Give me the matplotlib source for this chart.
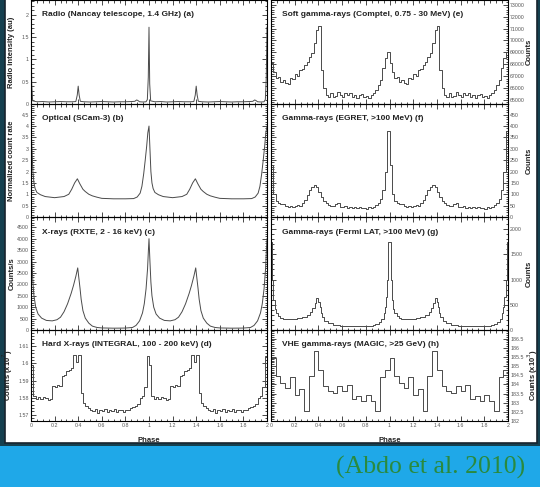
import numpy as np
import matplotlib.pyplot as plt
from matplotlib.ticker import MultipleLocator, FormatStrFormatter
from matplotlib.patches import Rectangle

plt.rcParams['font.family'] = ['Liberation Sans', 'DejaVu Sans']

# one rotation of every light curve (phase 0 -> 1), the plot shows it twice

# (a) radio, Nancay
radio_phase = [0.0, 0.006, 0.014, 0.05, 0.1, 0.15, 0.2, 0.25, 0.3, 0.35, 0.38, 0.392, 0.40, 0.408,
               0.418, 0.45, 0.5, 0.55, 0.6, 0.65, 0.7, 0.75, 0.8, 0.85, 0.88, 0.895, 0.905, 0.92,
               0.95, 0.975, 0.986, 0.994]
radio_val = [1.72, 0.45, 0.07, 0.05, 0.055, 0.045, 0.05, 0.055, 0.05, 0.05, 0.055, 0.2, 0.40, 0.2,
             0.06, 0.05, 0.045, 0.05, 0.055, 0.05, 0.045, 0.05, 0.05, 0.055, 0.06, 0.09, 0.08, 0.05,
             0.045, 0.05, 0.1, 0.6]

# (b) optical, SCam-3
opt_phase = [0.0, 0.008, 0.016, 0.025, 0.035, 0.05, 0.08, 0.12, 0.2, 0.28, 0.32, 0.345, 0.37, 0.393,
             0.415, 0.44, 0.46, 0.49, 0.52, 0.56, 0.6, 0.7, 0.8, 0.87, 0.9, 0.925, 0.94, 0.955,
             0.968, 0.98, 0.99]
opt_val = [4.0, 3.0, 2.0, 1.5, 1.25, 1.08, 0.98, 0.9, 0.85, 0.9, 1.0, 1.22, 1.5, 1.68,
           1.45, 1.22, 1.12, 1.0, 0.93, 0.87, 0.82, 0.8, 0.8, 0.81, 0.88, 1.05, 1.35, 1.9,
           2.5, 3.1, 3.7]

# (c) X-rays, RXTE 2-16 keV
xray_phase = [0.0, 0.008, 0.016, 0.025, 0.04, 0.06, 0.09, 0.13, 0.18, 0.22, 0.25, 0.28, 0.31, 0.34,
              0.36, 0.38, 0.396, 0.405, 0.415, 0.425, 0.44, 0.46, 0.49, 0.52, 0.56, 0.6, 0.7,
              0.8, 0.86, 0.89, 0.92, 0.945, 0.96, 0.975, 0.988, 0.995]
xray_val = [4000, 3000, 2100, 1500, 1000, 700, 520, 420, 400, 450, 560, 800, 1150, 1600,
            1950, 2350, 2720, 2300, 1850, 1350, 850, 520, 300, 170, 110, 90, 80,
            85, 110, 200, 400, 750, 1150, 1800, 2700, 3500]

# (d) hard X-rays, INTEGRAL 100-200 keV, bins of 0.02
hardx_val = [1.5990, 1.5810, 1.5795, 1.5802, 1.5790, 1.5806, 1.5800, 1.5786, 1.5792, 1.5866,
             1.5862, 1.5872, 1.5868, 1.5926, 1.5930, 1.5958, 1.5962, 1.5975, 1.6050, 1.6010,
             1.6048, 1.5830, 1.5770, 1.5752, 1.5738, 1.5730, 1.5722, 1.5734, 1.5712, 1.5726,
             1.5720, 1.5733, 1.5716, 1.5728, 1.5722, 1.5735, 1.5718, 1.5730, 1.5726, 1.5714,
             1.5730, 1.5726, 1.5738, 1.5745, 1.5752, 1.5762, 1.5800, 1.5812, 1.5862, 1.6045]

# (e) soft gamma-rays, COMPTEL 0.75-30 MeV, bins of 0.02
comptel_val = [68090, 67390, 66830, 66910, 66540, 66690, 66400, 66350, 66830, 66740,
               67190, 67020, 67530, 67580, 67950, 68230, 68650, 68930, 69780, 70900,
               71240, 67530, 65980, 65420, 65280, 65560, 65220, 65340, 65700, 65420,
               65280, 65560, 65390, 65620, 65280, 65450, 65200, 65390, 65510, 65280,
               65340, 65170, 65420, 65560, 65840, 66260, 66690, 67670, 68500, 69070]

# (f) gamma-rays, EGRET > 100 MeV, bins of 0.02
egret_val = [230, 100, 72, 62, 58, 55, 50, 45, 48, 44,
             47, 52, 50, 62, 76, 95, 118, 133, 140, 132,
             110, 88, 70, 60, 52, 50, 48, 55, 60, 45,
             42, 48, 40, 44, 38, 42, 40, 45, 38, 40,
             36, 42, 40, 45, 52, 62, 80, 120, 200, 377]

# (g) gamma-rays, Fermi LAT > 100 MeV
fermi_phase = [0.0, 0.01, 0.02, 0.03, 0.04, 0.06, 0.08, 0.10, 0.14, 0.18, 0.22, 0.26, 0.30, 0.33,
               0.35, 0.37, 0.38, 0.40, 0.41, 0.42, 0.43, 0.45, 0.48, 0.52, 0.58, 0.86, 0.88,
               0.91, 0.93, 0.95, 0.96, 0.97, 0.98, 0.99]
fermi_val = [1750, 1000, 600, 420, 330, 270, 240, 220, 210, 215, 230, 260, 300, 360,
             430, 530, 640, 560, 450, 330, 250, 180, 130, 100, 85, 90, 110,
             160, 220, 330, 450, 650, 1000, 1750]

# (h) VHE gamma-rays, MAGIC > 25 GeV, bins of 0.04 (x10^3 counts)
magic_val = [185.42, 184.48, 184.10, 183.82, 184.39, 183.44, 183.73, 182.54, 184.48, 185.80,
             184.80, 183.90, 183.63, 183.54, 183.92, 183.63, 183.97, 183.22, 183.35, 183.10,
             183.44, 183.07, 182.54, 184.39, 184.76]


def two_cycles(ph, val):
    ph = np.asarray(ph, float)
    val = np.asarray(val, float)
    return np.concatenate([ph, ph + 1, [2.0]]), np.concatenate([val, val, [val[0]]])


def binned(val, width):
    ph = np.arange(len(val)) * width
    return two_cycles(ph, val)


fig = plt.figure(figsize=(5.4, 4.87), dpi=100)
fig.patch.set_facecolor('#1fa8e8')
fig.patches.append(Rectangle((0, 1 - 446 / 487), 1, 446 / 487, transform=fig.transFigure,
                             facecolor='#15404f', edgecolor='none', zorder=0))
fig.patches.append(Rectangle((5 / 540, 1 - 443 / 487), 532 / 540, 443 / 487 + 0.01,
                             transform=fig.transFigure, facecolor='white',
                             edgecolor='#18242e', lw=1.2, zorder=1))

W, H = 540, 487
cols = [(31, 267), (271, 508)]
rows = [(0, 104), (104, 217), (217, 330), (330, 421)]

panels = [
    # col, row, title, ylabel, ylim, major, minor, kind, data
    (0, 0, 'Radio (Nancay telescope, 1.4 GHz) (a)', 'Radio intensity (au)', (0, 2.33), 0.5, 0.1,
     'line', two_cycles(radio_phase, radio_val)),
    (0, 1, 'Optical (SCam-3) (b)', 'Normalized count rate', (0, 4.97), 0.5, 0.1,
     'line', two_cycles(opt_phase, opt_val)),
    (0, 2, 'X-rays (RXTE, 2 - 16 keV) (c)', 'Counts/s', (0, 4950), 500, 100,
     'line', two_cycles(xray_phase, xray_val)),
    (0, 3, 'Hard X-rays (INTEGRAL, 100 - 200 keV) (d)', 'Counts (x10$^7$)', (1.5664, 1.6195), 0.01, 0.002,
     'step', binned(hardx_val, 0.02)),
    (1, 0, 'Soft gamma-rays (Comptel, 0.75 - 30 MeV) (e)', 'Counts', (64660, 73400), 1000, 200,
     'step', binned(comptel_val, 0.02)),
    (1, 1, 'Gamma-rays (EGRET, >100 MeV) (f)', 'Counts', (0, 497), 50, 10,
     'step', binned(egret_val, 0.02)),
    (1, 2, 'Gamma-rays (Fermi LAT, >100 MeV) (g)', 'Counts', (0, 2240), 500, 100,
     'step', two_cycles(fermi_phase, fermi_val)),
    (1, 3, 'VHE gamma-rays (MAGIC, >25 GeV) (h)', 'Counts (x10$^3$)', (182, 186.97), 0.5, 0.1,
     'step', binned(magic_val, 0.04)),
]

for c, r, title, ylab, ylim, major, minor, kind, (x, y) in panels:
    x0, x1 = cols[c]
    y0, y1 = rows[r]
    ax = fig.add_axes([x0 / W, 1 - y1 / H, (x1 - x0) / W, (y1 - y0) / H])
    ax.set_zorder(3)
    ax.patch.set_alpha(0)
    if kind == 'step':
        ax.step(x, y, where='post', color='#4a4a4a', lw=0.7)
    else:
        ax.plot(x, y, color='#4a4a4a', lw=0.7)
    ax.set_xlim(0, 2)
    ax.set_ylim(*ylim)
    ax.xaxis.set_major_locator(MultipleLocator(0.2))
    ax.xaxis.set_minor_locator(MultipleLocator(0.05))
    ax.yaxis.set_major_locator(MultipleLocator(major))
    ax.yaxis.set_minor_locator(MultipleLocator(minor))
    ax.xaxis.set_major_formatter(FormatStrFormatter('%g'))
    ax.yaxis.set_major_formatter(FormatStrFormatter('%g'))
    ax.tick_params(which='both', direction='in', top=True, right=True, left=True, bottom=True,
                   width=0.5, labelsize=3.8, labelcolor='#555555', pad=1.5)
    ax.tick_params(which='major', length=3.5)
    ax.tick_params(which='minor', length=1.8)
    for s in ax.spines.values():
        s.set_linewidth(0.8)
    if r != 3:
        ax.tick_params(labelbottom=False)
    else:
        ax.set_xlabel('Phase', fontsize=5.5, fontweight='bold', color='#222222')
        ax.xaxis.set_label_coords(0.5, -16 / (y1 - y0))
    ax.set_ylabel(ylab, fontsize=5.5, fontweight='bold', color='#222222')
    if c == 1:
        ax.tick_params(labelleft=False, labelright=True)
        ax.yaxis.set_label_position('right')
        ax.yaxis.set_label_coords(1 + 17.5 / (x1 - x0), 0.5)
    else:
        ax.yaxis.set_label_coords(-15.5 / (x1 - x0), 0.5)
    ax.text(11 / (x1 - x0), 1 - 15 / (y1 - y0), title, transform=ax.transAxes,
            fontsize=6.0, fontweight='bold', color='#222222', va='center', ha='left')

fig.text(431 / W, 1 - 467 / H, '(Abdo et al. 2010)', fontsize=18.5, color='#2a8a3e',
         family='Liberation Serif', ha='center', va='center')

fig.savefig('out.png', dpi=100, facecolor=fig.get_facecolor())
